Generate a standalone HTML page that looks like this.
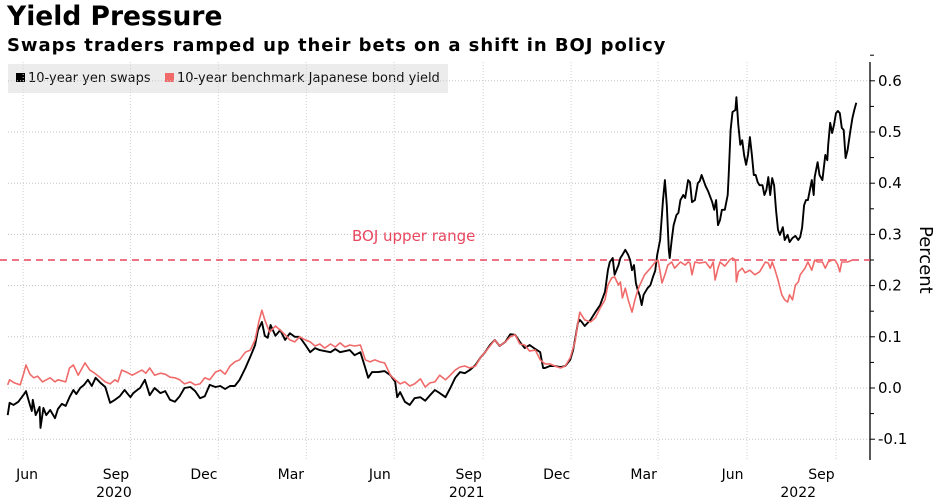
<!DOCTYPE html>
<html><head><meta charset="utf-8"><style>
body{margin:0;background:#fff;font-family:"DejaVu Sans","Liberation Sans",sans-serif;}
#wrap{position:relative;width:941px;height:500px;overflow:hidden;}
.t{position:absolute;white-space:nowrap;}
</style></head><body>
<div id="wrap">
<div class="t" style="left:7px;top:1px;font-size:26.5px;font-weight:bold;color:#000;">Yield Pressure</div>
<div class="t" style="left:7px;top:35px;font-size:18px;letter-spacing:0.95px;font-weight:bold;color:#000;">Swaps traders ramped up their bets on a shift in BOJ policy</div>
<div style="position:absolute;left:8px;top:64px;width:440px;height:29px;background:#ececec;font-size:13px;color:#111;">
 <div class="t" style="left:8px;top:7px;"><span style="display:inline-block;width:9px;height:9px;background:#000;margin-right:3px;"></span>10-year yen swaps</div>
 <div class="t" style="left:157px;top:7px;"><span style="display:inline-block;width:9px;height:9px;background:#f06a6a;margin-right:3px;"></span>10-year benchmark Japanese bond yield</div>
</div>
<svg id="svg" width="941" height="500" style="position:absolute;left:0;top:0"></svg>
</div>
<script>
const yTicks=[-0.1,0,0.1,0.2,0.3,0.4,0.5,0.6];
const yTickLabels=["-0.1","0.0","0.1","0.2","0.3","0.4","0.5","0.6"];
const gridDays=[-4,107,198,289,380,472,563,653,745,837];
const xLabelDays=[0,92,183,273,365,457,548,638,730,822];
const xLabels=["Jun","Sep","Dec","Mar","Jun","Sep","Dec","Mar","Jun","Sep"];
const yearLabelDays=[92,457,800];
const yearLabels=["2020","2021","2022"];
const bojLevel=0.25;
const swapDays=[-20,-18,-14,-9,-3,-1,1,3,5,6,9,13,14,17,20,24,29,32,36,40,44,48,51,55,59,63,67,71,76,81,86,91,96,101,107,110,114,117,122,127,132,138,143,148,153,158,163,169,174,179,184,189,195,200,205,210,215,220,226,231,236,239,243,246,249,252,257,262,267,272,277,282,288,293,298,303,308,314,319,324,334,339,345,350,353,357,363,370,376,381,383,386,391,396,401,407,412,417,422,427,433,438,443,448,453,458,464,469,474,479,484,489,495,500,505,510,515,520,526,531,534,536,541,546,552,557,562,565,567,570,572,574,577,583,588,593,598,601,603,606,608,612,614,616,619,622,624,626,628,630,632,634,636,638,642,645,648,650,652,655,658,660,662,664,665,667,669,672,674,676,679,681,684,686,688,691,694,696,698,702,705,709,711,713,715,717,719,722,725,726,728,730,733,734,736,738,740,742,744,746,748,750,752,754,756,758,761,763,765,767,769,771,773,775,777,779,782,784,787,789,792,795,798,800,802,804,806,808,810,812,814,815,818,820,823,826,828,829,831,833,835,837,839,841,843,845,847,849,852,854,856,858];
const swapVals=[-0.053,-0.029,-0.033,-0.027,-0.012,-0.006,-0.020,-0.033,-0.045,-0.023,-0.053,-0.037,-0.078,-0.039,-0.053,-0.043,-0.059,-0.041,-0.031,-0.035,-0.018,-0.004,-0.012,0,0.006,0.016,0.004,0.020,0.010,0.002,-0.029,-0.023,-0.016,-0.004,-0.018,-0.010,-0.004,0,0.016,-0.014,0,-0.010,-0.006,-0.023,-0.027,-0.016,0,0.002,-0.006,-0.020,-0.016,0.006,0.002,0.004,-0.002,0.004,0.004,0.016,0.039,0.061,0.084,0.113,0.129,0.102,0.098,0.123,0.102,0.113,0.094,0.107,0.100,0.100,0.084,0.070,0.078,0.074,0.072,0.070,0.076,0.070,0.074,0.064,0.070,0.039,0.020,0.031,0.031,0.033,0.025,0.012,-0.018,-0.008,-0.027,-0.033,-0.020,-0.018,-0.025,-0.014,-0.004,-0.010,-0.018,0,0.020,0.031,0.029,0.035,0.045,0.059,0.070,0.084,0.094,0.082,0.090,0.105,0.104,0.090,0.078,0.084,0.076,0.070,0.039,0.039,0.043,0.043,0.041,0.043,0.055,0.074,0.094,0.127,0.133,0.129,0.121,0.133,0.148,0.162,0.188,0.230,0.246,0.254,0.221,0.240,0.254,0.260,0.270,0.260,0.250,0.230,0.240,0.205,0.191,0.180,0.162,0.182,0.195,0.201,0.219,0.229,0.260,0.289,0.367,0.406,0.357,0.270,0.254,0.289,0.318,0.338,0.342,0.367,0.377,0.371,0.406,0.402,0.363,0.367,0.400,0.404,0.416,0.395,0.383,0.363,0.348,0.367,0.318,0.328,0.348,0.348,0.377,0.416,0.504,0.539,0.543,0.568,0.514,0.475,0.484,0.455,0.436,0.455,0.490,0.455,0.416,0.416,0.402,0.396,0.396,0.377,0.387,0.412,0.377,0.410,0.396,0.348,0.309,0.299,0.314,0.289,0.299,0.285,0.293,0.297,0.289,0.295,0.313,0.357,0.367,0.367,0.387,0.406,0.377,0.412,0.441,0.416,0.406,0.455,0.445,0.475,0.518,0.498,0.514,0.537,0.541,0.537,0.508,0.504,0.449,0.465,0.504,0.527,0.543,0.557];
const jgbDays=[-20,-18,-13,-7,-3,-1,3,7,11,16,20,24,29,32,36,40,44,48,53,60,65,70,76,81,86,91,94,98,103,109,115,119,123,127,132,138,143,148,153,158,163,169,174,179,184,189,195,200,205,210,215,220,226,231,236,240,243,246,251,257,262,267,272,277,282,288,293,298,303,308,314,319,324,329,334,339,345,350,355,360,365,370,376,381,386,391,396,401,407,412,417,422,427,433,438,443,448,453,458,464,469,474,479,484,489,495,500,505,510,515,520,526,531,536,541,546,552,557,562,567,570,572,577,583,588,593,598,601,605,608,612,614,616,619,622,626,629,632,634,639,645,650,653,655,657,660,663,667,670,676,681,684,686,688,691,696,702,707,710,712,715,717,722,727,730,733,734,736,740,743,748,753,758,764,767,769,771,774,777,781,784,787,789,792,795,798,800,805,808,812,815,818,823,826,829,833,836,839,841,843,846,849,854];
const jgbVals=[0.006,0.016,0.010,0.006,0.031,0.045,0.027,0.020,0.023,0.012,0.016,0.020,0.012,0.016,0.014,0.012,0.039,0.045,0.025,0.049,0.035,0.029,0.020,0.012,0.008,0.016,0.012,0.035,0.031,0.025,0.031,0.035,0.029,0.039,0.025,0.029,0.027,0.021,0.020,0.016,0.008,0.012,0.006,0.008,0.020,0.016,0.031,0.035,0.027,0.043,0.051,0.055,0.070,0.074,0.094,0.131,0.152,0.133,0.109,0.121,0.113,0.104,0.094,0.090,0.100,0.094,0.090,0.082,0.086,0.078,0.086,0.080,0.088,0.080,0.084,0.082,0.084,0.055,0.051,0.055,0.051,0.049,0.025,0.016,0.008,0.012,0.004,0.008,0.018,0.002,0.010,0.012,0.025,0.016,0.025,0.035,0.041,0.043,0.039,0.043,0.059,0.070,0.082,0.094,0.082,0.090,0.100,0.104,0.086,0.084,0.072,0.074,0.055,0.047,0.047,0.043,0.039,0.043,0.059,0.090,0.127,0.148,0.133,0.129,0.137,0.156,0.172,0.201,0.215,0.217,0.201,0.207,0.176,0.195,0.172,0.148,0.172,0.191,0.201,0.221,0.234,0.246,0.250,0.227,0.205,0.221,0.240,0.246,0.234,0.246,0.240,0.246,0.244,0.221,0.246,0.244,0.246,0.234,0.246,0.211,0.234,0.246,0.238,0.250,0.254,0.250,0.207,0.227,0.234,0.225,0.230,0.221,0.227,0.246,0.244,0.234,0.246,0.230,0.211,0.182,0.172,0.168,0.182,0.172,0.201,0.207,0.221,0.234,0.246,0.230,0.250,0.246,0.246,0.234,0.246,0.250,0.250,0.240,0.227,0.246,0.246,0.246,0.250];

const svg=document.getElementById('svg');
const NS='http://www.w3.org/2000/svg';
const xS=d=>27+d*0.9665;
const yS=v=>388-v*512;
const R=870, B=460;
function mk(tag,attrs){const e=document.createElementNS(NS,tag);for(const k in attrs)e.setAttribute(k,attrs[k]);svg.appendChild(e);return e;}

yTicks.forEach((v,i)=>{
  const g=mk('line',{x1:8,x2:R,y1:yS(v),y2:yS(v),stroke:'#c4c4c4','stroke-dasharray':'1,2'});
  
  
  const tk=mk('line',{x1:R,x2:R+5,y1:yS(v),y2:yS(v),stroke:'#000'});
  
  
  const mt=mk('line',{x1:R,x2:R+4,y1:yS(v+0.05),y2:yS(v+0.05),stroke:'#000'});
  
  
  const t=mk('text',{x:R+8,y:yS(v)+5,'font-size':15,fill:'#000'});
  t.textContent=yTickLabels[i];
  
  
});
gridDays.forEach(d=>{
  const g=mk('line',{x1:xS(d),x2:xS(d),y1:62,y2:B,stroke:'#d0d0d0','stroke-dasharray':'1,2'});
  
  
});
xLabelDays.forEach((d,i)=>{
  const t=mk('text',{x:xS(d),y:479,'font-size':14,'text-anchor':'middle',fill:'#000'});
  t.textContent=xLabels[i];
  
  
});
yearLabelDays.forEach((d,i)=>{
  const t=mk('text',{x:xS(d)-2,y:497,'font-size':14,'text-anchor':'middle',fill:'#000'});
  t.textContent=yearLabels[i];
  
  
});
const ay=mk('line',{x1:R,x2:R,y1:62,y2:B,stroke:'#000','stroke-width':1.3});


const yt=mk('text',{x:0,y:0,'font-size':18,fill:'#000',transform:'translate(920,226) rotate(90)'});
yt.textContent='Percent';



const bl=mk('line',{x1:0,x2:R,y1:yS(bojLevel),y2:yS(bojLevel),stroke:'#e8475f','stroke-width':1.6,'stroke-dasharray':'7,5'});


const btx=mk('text',{x:352,y:241,'font-size':15,fill:'#e8475f'});
btx.textContent='BOJ upper range';



function path(days,vals,color,w){
  let d='';days.forEach((x,i)=>{d+=(i?'L':'M')+xS(x).toFixed(1)+','+yS(vals[i]).toFixed(1);});
  return mk('path',{d:d,fill:'none',stroke:color,'stroke-width':w,'stroke-linejoin':'round'});
}
const ps=path(swapDays,swapVals,'#000',1.9);


const pb=path(jgbDays,jgbVals,'#f06a6a',1.6);


</script>
</body></html>
